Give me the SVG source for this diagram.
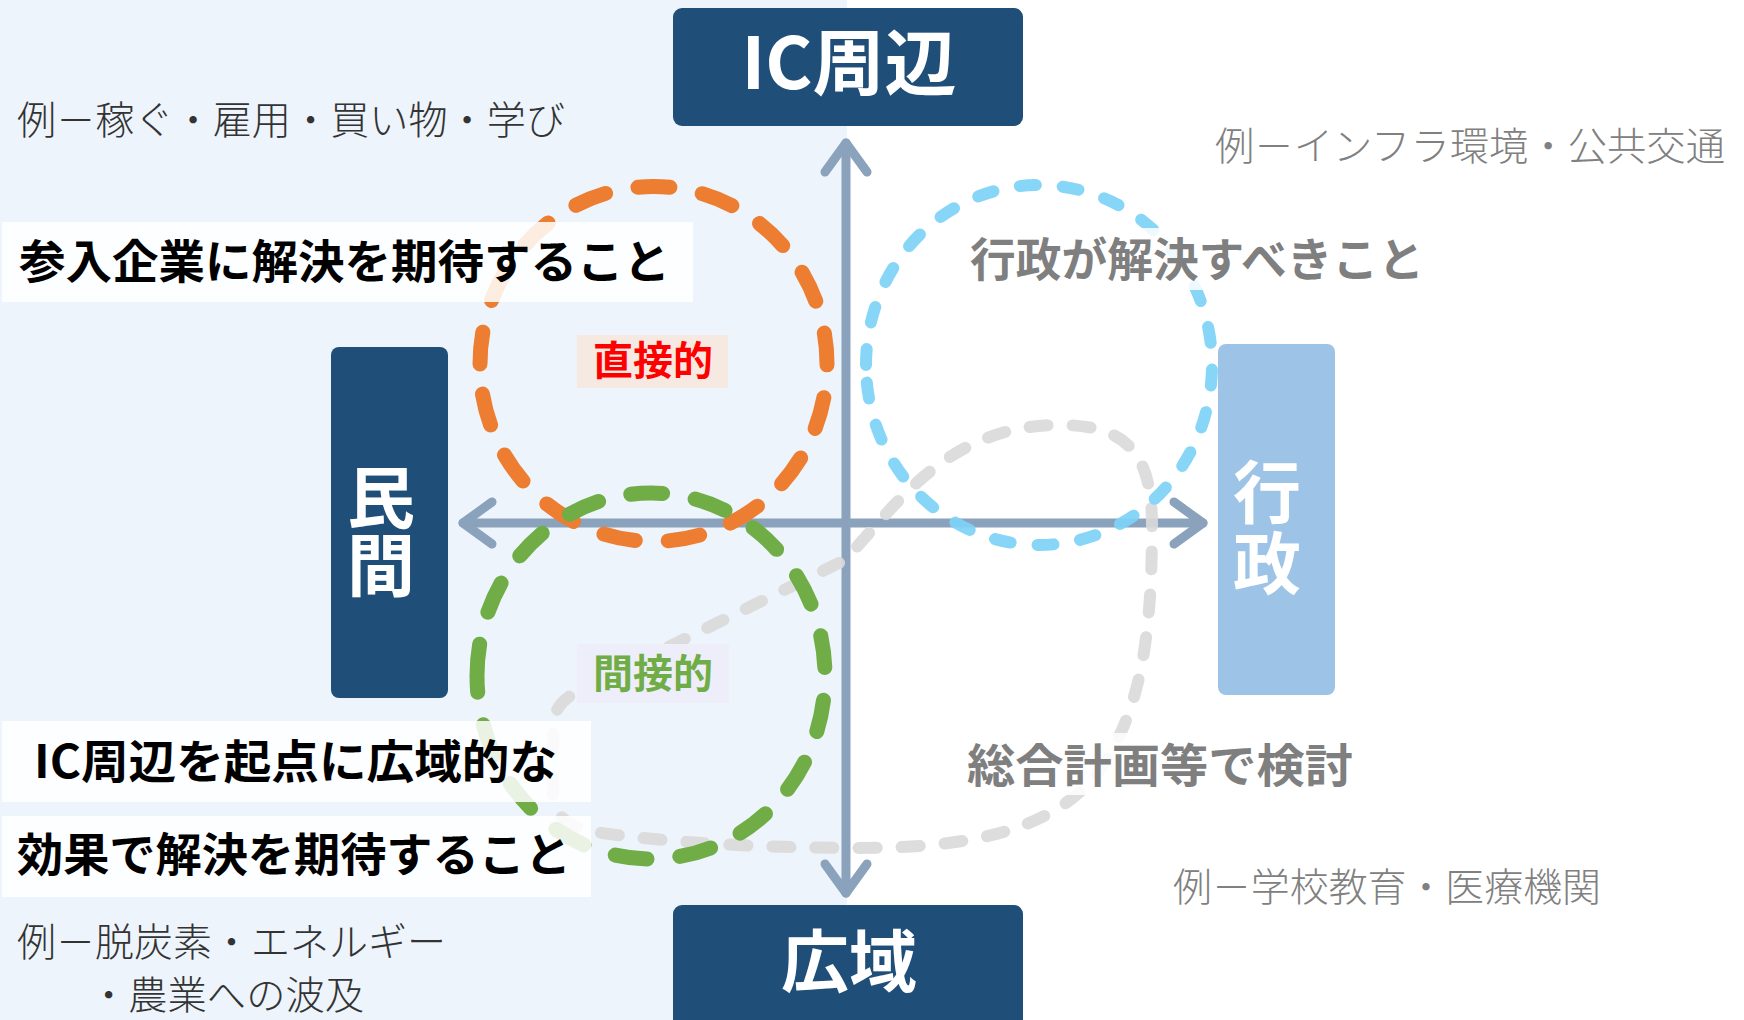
<svg xmlns="http://www.w3.org/2000/svg" width="1744" height="1020" viewBox="0 0 1744 1020">
<style>
  .jp { font-family: "Noto Sans CJK JP", "Noto Sans", sans-serif; }
  .thin { font-weight: 300; font-size: 39px; }
  .bold { font-weight: 700; font-size: 46px; }
  .node { fill: #1F4E79; }
  .nodeText { fill: #FFFFFF; font-weight: 700; }
  .vert { writing-mode: vertical-rl; font-size: 68px; }
  .ax { fill: none; stroke: #8AA2BC; stroke-width: 9; stroke-linecap: round; stroke-linejoin: round; }
  .ring { fill: none; stroke-linecap: round; }
  .tbox { fill: #FFFFFF; fill-opacity: 0.85; }
</style>

<rect x="0" y="0" width="1744" height="1020" fill="#FFFFFF"/>
<rect x="0" y="0" width="847" height="1020" fill="#EDF4FB"/>

<g id="connectors">
  <line class="ax" x1="846" y1="143" x2="846" y2="893"/>
  <path class="ax" d="M 825,172 L 846,143 L 867,172"/>
  <path class="ax" d="M 825,864 L 846,893 L 867,864"/>
  <line class="ax" x1="463" y1="523" x2="1203" y2="523"/>
  <path class="ax" d="M 492,502 L 463,523 L 492,544"/>
  <path class="ax" d="M 1174,502 L 1203,523 L 1174,544"/>
</g>

<g id="regions">
  <path id="loop-gray" class="ring" stroke="#D9D9D9" stroke-opacity="0.9" stroke-width="12" stroke-dasharray="18 25"
        d="M 553,795 L 553,727 Q 553,705 575,693 L 845,560 C 900,500 950,425 1060,425 C 1128,425 1152,455 1152,525 C 1152,640 1140,720 1092,780 C 1045,832 965,848 860,848 C 760,848 660,842 595,832 Q 553,824 553,795 Z"/>
  <path id="ring-orange" class="ring" stroke="#ED7D31" stroke-width="15" stroke-dasharray="32 33"
        d="M 480,364 A 173.5,177.5 0 1,1 827,364 A 173.5,177.5 0 1,1 480,364 Z"/>
  <path id="ring-green" class="ring" stroke="#70AD47" stroke-width="15" stroke-dasharray="32 33"
        d="M 477,676 A 174,183 0 1,1 825,676 A 174,183 0 1,1 477,676 Z"/>
  <path id="ring-blue" class="ring" stroke="#7DD3F7" stroke-opacity="0.92" stroke-width="12" stroke-dasharray="16 27"
        d="M 866,365 A 173,180 0 1,1 1212,365 A 173,180 0 1,1 866,365 Z"/>
</g>

<g id="node-ic">
  <rect class="node" x="673" y="8" width="350" height="118" rx="9"/>
  <text class="jp nodeText" x="849" y="89" font-size="72" text-anchor="middle">IC周辺</text>
</g>
<g id="node-kouiki">
  <rect class="node" x="673" y="905" width="350" height="130" rx="9"/>
  <text class="jp nodeText" x="849" y="987" font-size="68" text-anchor="middle">広域</text>
</g>
<g id="node-minkan">
  <rect class="node" x="331" y="347" width="117" height="351" rx="8"/>
  <text class="jp nodeText vert" x="381" y="463">民間</text>
</g>
<g id="node-gyosei">
  <rect x="1218" y="344" width="117" height="351" rx="8" fill="#9DC3E6"/>
  <text class="jp nodeText vert" x="1267" y="458" letter-spacing="3">行政</text>
</g>

<g id="label-sannyu">
  <rect class="tbox" x="2" y="222" width="691" height="80"/>
  <text class="jp bold" x="19" y="278" fill="#000000" textLength="651" lengthAdjust="spacingAndGlyphs">参入企業に解決を期待すること</text>
</g>
<g id="label-chokusetsu">
  <rect x="577" y="335" width="151" height="53" fill="#F6E9E2"/>
  <text class="jp" x="653" y="375" font-size="40" font-weight="700" fill="#FF0000" text-anchor="middle">直接的</text>
</g>
<g id="label-kansetsu">
  <rect x="577" y="644" width="152" height="59" fill="#EDEEF9"/>
  <text class="jp" x="653" y="688" font-size="40" font-weight="700" fill="#70AD47" text-anchor="middle">間接的</text>
</g>
<g id="label-kouiki">
  <rect class="tbox" x="2" y="721" width="589" height="81"/>
  <rect class="tbox" x="2" y="816" width="589" height="81"/>
  <text class="jp bold" x="34" y="778" fill="#000000" textLength="523" lengthAdjust="spacingAndGlyphs">IC周辺を起点に広域的な</text>
  <text class="jp bold" x="17" y="871" fill="#000000" textLength="554" lengthAdjust="spacingAndGlyphs">効果で解決を期待すること</text>
</g>
<g id="label-gyosei">
  <rect class="tbox" x="962" y="228" width="468" height="62"/>
  <text class="jp bold" x="970" y="276" fill="#7F7F7F" textLength="454" lengthAdjust="spacingAndGlyphs">行政が解決すべきこと</text>
</g>
<g id="label-sougou">
  <rect class="tbox" x="960" y="733" width="402" height="62"/>
  <text class="jp bold" x="967" y="782" fill="#7F7F7F" font-size="48" textLength="386" lengthAdjust="spacingAndGlyphs">総合計画等で検討</text>
</g>

<g id="examples">
  <text class="jp thin" x="17" y="134" fill="#333333" textLength="548" lengthAdjust="spacingAndGlyphs">例－稼ぐ・雇用・買い物・学び</text>
  <text class="jp thin" x="1215" y="160" fill="#808080" textLength="510" lengthAdjust="spacingAndGlyphs">例－インフラ環境・公共交通</text>
  <text class="jp thin" x="1173" y="901" fill="#808080" textLength="428" lengthAdjust="spacingAndGlyphs">例－学校教育・医療機関</text>
  <text class="jp thin" x="17" y="956" font-size="36" fill="#333333" textLength="429" lengthAdjust="spacingAndGlyphs">例－脱炭素・エネルギー</text>
  <text class="jp thin" x="89" y="1009" font-size="36" fill="#333333" textLength="275" lengthAdjust="spacingAndGlyphs">・農業への波及</text>
</g>
</svg>
